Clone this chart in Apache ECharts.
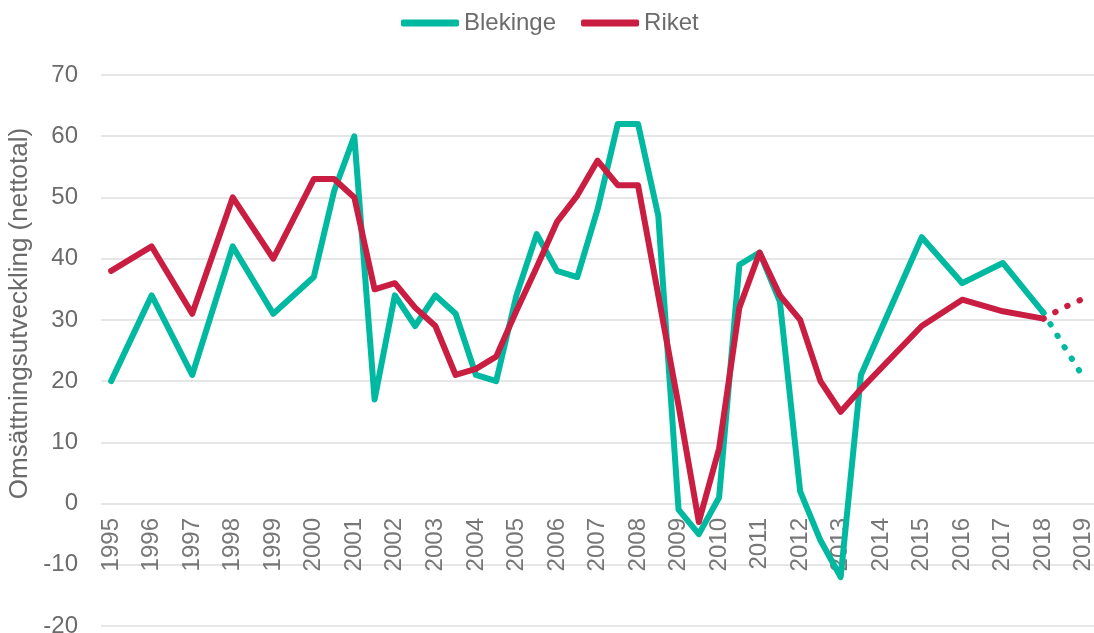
<!doctype html>
<html>
    <head>
        <meta charset="utf-8">
        <style>
            html, body { margin: 0; padding: 0; background: #fff; }
            #main { width: 1094px; height: 633px; }
        </style>
    </head>
    <body>
        <div id="main"></div>
        <script src="https://cdn.jsdelivr.net/npm/echarts@6/dist/echarts.min.js"></script>
        <script>
            // tick labels on the x axis (one per year, half years in between)
            var years = ['1995', '1996', '1997', '1998', '1999', '2000', '2001', '2002', '2003', '2004',
                '2005', '2006', '2007', '2008', '2009', '2010', '2011', '2012', '2013', '2014',
                '2015', '2016', '2017', '2018', '2019'];

            var periods = ['1995', '1996', '1997', '1998', '1999', '2000', '2000.5', '2001', '2001.5',
                '2002', '2002.5', '2003', '2003.5', '2004', '2004.5', '2005', '2005.5', '2006', '2006.5',
                '2007', '2007.5', '2008', '2008.5', '2009', '2009.5', '2010', '2010.5', '2011', '2011.5',
                '2012', '2012.5', '2013', '2013.5', '2015', '2016', '2017', '2018'];

            var blekinge = [20, 34, 21, 42, 31, 37, 51, 60, 17, 34, 29, 34, 31, 21, 20, 34, 44, 38, 37,
                48, 62, 62, 47, -1, -5, 1, 39, 41, 33, 2, -6, -12, 21, 43.5, 36, 39.3, 31.2];

            var riket = [38, 42, 31, 50, 40, 53, 53, 50, 35, 36, 32, 29, 21, 22, 24, 31.5, 38.6, 46, 50.3,
                56, 52, 52, 34, 16, -3, 9, 32, 41, 34, 30, 20, 15, 18.7, 29, 33.3, 31.4, 30.2];

            // prognos (dotted)
            var fcPeriods = ['2018', '2018.5', '2019'];
            var blekingeFc = [31.2, 25.8, 20.5];
            var riketFc = [30.2, 32, 33.5];

            var TEAL = '#00b9a0';
            var RED = '#c91e42';
            var TEXT = '#6b6b6b';

            var categories = [];
            years.forEach(function (y, i) {
                categories.push(y);
                if (i < years.length - 1) categories.push(y + '.5');
            });

            function pairs(keys, vals) {
                return keys.map(function (k, i) {
                    return [categories.indexOf(k), vals[i]];
                });
            }

            var chart = echarts.init(document.getElementById('main'));

            chart.setOption({
                animation: false,
                legend: {
                    data: ['Blekinge', 'Riket'],
                    left: 396,
                    top: 6,
                    icon: 'roundRect',
                    itemWidth: 58,
                    itemHeight: 7,
                    itemGap: 25,
                    textStyle: { fontFamily: 'Liberation Sans', fontSize: 24, color: TEXT }
                },
                grid: {
                    left: 101,
                    right: 0,
                    top: 75,
                    bottom: 7,
                    containLabel: false,
                    outerBoundsMode: 'none'
                },
                xAxis: {
                    type: 'category',
                    data: categories,
                    boundaryGap: true,
                    position: 'bottom',
                    offset: -123,
                    axisLine: { show: false, onZero: false },
                    axisTick: { show: false },
                    splitLine: { show: false },
                    axisLabel: {
                        interval: 1,
                        rotate: 90,
                        margin: 15,
                        fontFamily: 'Liberation Sans',
                        fontSize: 24,
                        color: '#777'
                    }
                },
                yAxis: {
                    type: 'value',
                    min: -20,
                    max: 70,
                    interval: 10,
                    name: 'Omsättningsutveckling (nettotal)',
                    nameLocation: 'middle',
                    nameGap: 66,
                    nameTextStyle: {
                        fontFamily: 'Liberation Sans',
                        fontSize: 26,
                        color: TEXT,
                        padding: [0, 0, 0, 74]
                    },
                    axisLine: { show: false },
                    axisTick: { show: false },
                    splitLine: { lineStyle: { color: '#dedede', width: 1.5 } },
                    axisLabel: {
                        margin: 23,
                        fontFamily: 'Liberation Sans',
                        fontSize: 24,
                        color: TEXT
                    }
                },
                series: [
                    {
                        name: 'Blekinge',
                        type: 'line',
                        showSymbol: false,
                        data: pairs(periods, blekinge),
                        itemStyle: { color: TEAL },
                        lineStyle: { width: 6, color: TEAL, join: 'round', cap: 'round' }
                    },
                    {
                        name: 'Riket',
                        type: 'line',
                        showSymbol: false,
                        data: pairs(periods, riket),
                        itemStyle: { color: RED },
                        lineStyle: { width: 6, color: RED, join: 'round', cap: 'round' }
                    },
                    {
                        name: 'Blekinge prognos',
                        type: 'line',
                        showSymbol: false,
                        data: pairs(fcPeriods, blekingeFc),
                        lineStyle: { width: 6, color: TEAL, type: [0.5, 13], cap: 'round' }
                    },
                    {
                        name: 'Riket prognos',
                        type: 'line',
                        showSymbol: false,
                        data: pairs(fcPeriods, riketFc),
                        lineStyle: { width: 6, color: RED, type: [0.5, 13], cap: 'round' }
                    }
                ]
            });

            window.addEventListener('resize', function () {
                chart.resize();
            });
        </script>
    </body>
</html>
